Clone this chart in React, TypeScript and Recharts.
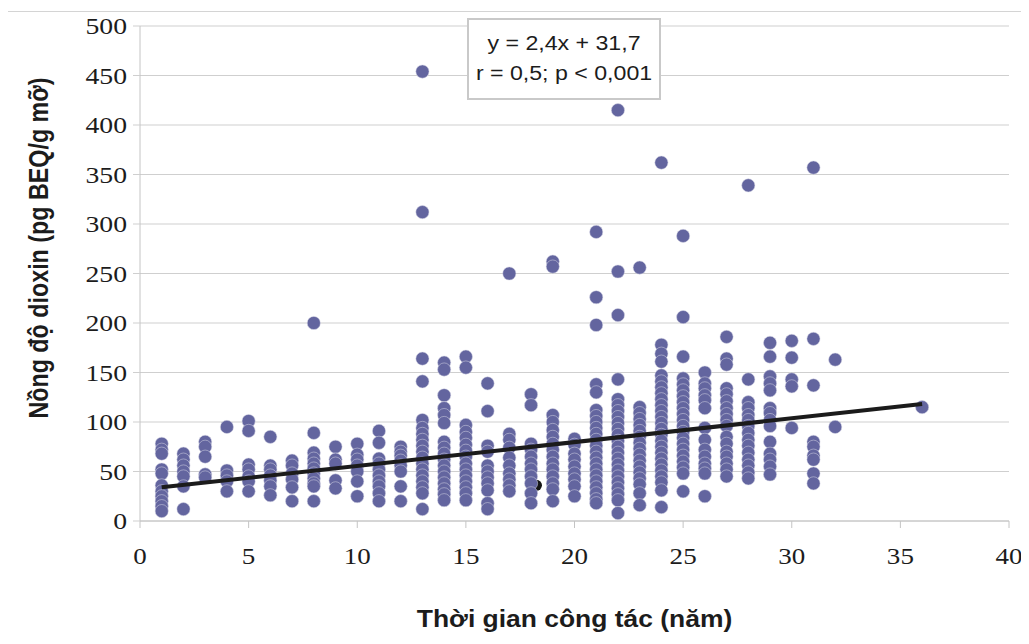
import React from 'react';
import { ScatterChart, Scatter, XAxis, YAxis, CartesianGrid } from 'recharts';

// Years of service (x) and the dioxin readings observed at each year (y)
const years = [1, 2, 3, 4, 5, 6, 7, 8, 9, 10, 11, 12, 13, 14, 15, 16, 17, 18, 19, 20, 21, 22, 23, 24, 25, 26, 27, 28, 29, 30, 31, 32, 36];

const dioxinByYear: number[][] = [
  [78, 72, 68, 52, 48, 36, 30, 25, 20, 15, 10],
  [68, 62, 56, 50, 45, 35, 12],
  [80, 75, 65, 47, 44],
  [95, 51, 46, 40, 30],
  [101, 91, 57, 52, 45, 40, 30],
  [85, 56, 52, 46, 41, 35, 26],
  [61, 56, 48, 42, 34, 20],
  [200, 89, 69, 63, 58, 53, 48, 43, 38, 35, 20],
  [75, 62, 58, 41, 33],
  [78, 67, 62, 56, 50, 40, 25],
  [91, 79, 63, 58, 52, 46, 40, 35, 28, 20],
  [75, 70, 66, 61, 56, 50, 35, 20],
  [454, 312, 164, 141, 102, 94, 88, 82, 76, 70, 64, 58, 52, 46, 40, 34, 28, 12],
  [160, 153, 127, 114, 107, 99, 80, 74, 68, 62, 56, 50, 44, 38, 32, 27, 21],
  [166, 155, 97, 90, 84, 77, 71, 65, 58, 52, 46, 40, 34, 28, 21],
  [139, 111, 76, 70, 56, 50, 44, 38, 31, 18, 12],
  [250, 88, 82, 74, 64, 56, 48, 42, 36, 30],
  [128, 117, 78, 72, 65, 58, 52, 45, 38, 28, 18],
  [262, 257, 107, 100, 92, 85, 78, 72, 65, 58, 52, 45, 38, 32, 20],
  [83, 77, 68, 62, 55, 48, 42, 35, 25],
  [292, 226, 198, 138, 130, 112, 106, 100, 94, 88, 82, 76, 70, 64, 58, 52, 46, 40, 34, 28, 22, 18],
  [415, 252, 208, 143, 123, 117, 111, 105, 99, 93, 87, 81, 75, 69, 63, 57, 51, 45, 39, 33, 27, 21, 8],
  [256, 115, 109, 103, 97, 91, 85, 79, 73, 67, 61, 55, 49, 43, 37, 28, 16],
  [362, 178, 169, 161, 147, 141, 135, 129, 123, 117, 111, 105, 99, 93, 87, 81, 75, 69, 63, 57, 51, 45, 39, 31, 14],
  [288, 206, 166, 144, 138, 132, 126, 120, 114, 108, 102, 96, 90, 84, 78, 72, 66, 60, 54, 48, 30],
  [150, 139, 134, 127, 122, 114, 94, 82, 72, 65, 58, 53, 48, 25],
  [186, 164, 158, 134, 128, 121, 114, 108, 102, 96, 85, 78, 70, 65, 58, 52, 45],
  [339, 143, 120, 114, 107, 102, 96, 89, 82, 76, 69, 62, 56, 49, 43],
  [180, 166, 146, 139, 132, 114, 109, 102, 96, 80, 68, 62, 55, 47],
  [182, 165, 143, 136, 94],
  [357, 184, 137, 80, 75, 66, 62, 48, 38],
  [163, 95],
  [115],
];

// a single dark marker peeking out behind the year-18 column
const darkX = [18.25];
const darkY = [36];

// regression line endpoints (y = 2,4x + 31,7)
const trendX = [1, 36];
const trendY = [34.1, 118.1];

const xTicks = [0, 5, 10, 15, 20, 25, 30, 35, 40];
const yTicks = [0, 50, 100, 150, 200, 250, 300, 350, 400, 450, 500];

const equationText = 'y = 2,4x + 31,7';
const statsText = 'r = 0,5; p < 0,001';
const xTitle = 'Thời gian công tác (năm)';
const yTitle = 'Nồng độ dioxin (pg BEQ/g mỡ)';

const points = years.flatMap((yr, i) => dioxinByYear[i].map((v) => ({ x: yr, y: v })));
const darkPoints = darkX.map((x, i) => ({ x, y: darkY[i] }));
const trendPoints = trendX.map((x, i) => ({ x, y: trendY[i] }));

const SERIF = "'Liberation Serif', 'Times New Roman', serif";
const SANS = "'Liberation Sans', Arial, sans-serif";
const TEXT = '#1c1c1c';
const GRID = '#cfcfcf';
const DOT = '#63659f';

const XTick = (props: any) => {
  const { x, y, payload } = props;
  return (
    <text transform={`translate(${x},${y + 36}) scale(1.15,1)`} textAnchor="middle" fontFamily={SERIF} fontSize={23.5} fill={TEXT}>
      {payload.value}
    </text>
  );
};

const YTick = (props: any) => {
  const { x, y, payload } = props;
  return (
    <text transform={`translate(${x - 6},${y + 8}) scale(1.18,1)`} textAnchor="end" fontFamily={SERIF} fontSize={23.5} fill={TEXT}>
      {payload.value}
    </text>
  );
};

const XTitle = (props: any) => {
  const vb = props.viewBox;
  return (
    <text transform={`translate(${vb.x + vb.width / 2},${vb.y + 106}) scale(1.15,1)`} textAnchor="middle" fontFamily={SANS} fontWeight="bold" fontSize={23} fill={TEXT}>
      {xTitle}
    </text>
  );
};

const YTitle = (props: any) => {
  const vb = props.viewBox;
  return (
    <text transform={`translate(40,${vb.y + 222}) scale(1.2,1) rotate(-90)`} textAnchor="middle" fontFamily={SANS} fontWeight="bold" fontSize={23.3} fill={TEXT}>
      {yTitle}
    </text>
  );
};

const Dot = (props: any) => <circle cx={props.cx} cy={props.cy} r={6.6} fill={DOT} stroke="#d9d9e6" strokeWidth={0.5} />;
const DarkDot = (props: any) => <circle cx={props.cx} cy={props.cy} r={5.5} fill="#151515" />;
const NoDot = () => <g />;

export default function App() {
  return (
    <div style={{ position: 'relative', width: 1017, height: 636 }}>
      <div style={{ position: 'absolute', left: -1, top: 3, width: 1016, height: 660, border: '1px solid #d4d4d4', boxSizing: 'border-box' }} />
      <ScatterChart width={1017} height={636} margin={{ top: 18, right: 16, left: 0, bottom: 0 }}>
        <CartesianGrid vertical={false} stroke={GRID} strokeWidth={1} />
        <XAxis
          type="number"
          dataKey="x"
          domain={[0, 40]}
          ticks={xTicks}
          interval={0}
          height={123}
          tickSize={7}
          tickMargin={0}
          axisLine={{ stroke: '#c4c4c4' }}
          tickLine={{ stroke: '#c4c4c4' }}
          tick={<XTick />}
          label={<XTitle />}
        />
        <YAxis
          type="number"
          dataKey="y"
          domain={[0, 500]}
          ticks={yTicks}
          interval={0}
          width={132}
          tickSize={7}
          tickMargin={0}
          axisLine={{ stroke: '#c4c4c4' }}
          tickLine={{ stroke: GRID }}
          tick={<YTick />}
          label={<YTitle />}
        />
        <Scatter data={darkPoints} shape={<DarkDot />} isAnimationActive={false} />
        <Scatter data={points} shape={<Dot />} isAnimationActive={false} />
        <Scatter data={trendPoints} shape={<NoDot />} line={{ stroke: '#1b1b1b', strokeWidth: 4 }} lineType="joint" isAnimationActive={false} />
      </ScatterChart>
      <svg width={1017} height={636} style={{ position: 'absolute', left: 0, top: 0, pointerEvents: 'none' }}>
        <rect x={460} y={11} width={192} height={80} fill="#ffffff" stroke="#c9c9c9" strokeWidth={2} />
        <text transform="translate(556,41.5) scale(1.2,1)" textAnchor="middle" fontFamily={SANS} fontSize={19.3} fill={TEXT}>
          {equationText}
        </text>
        <text transform="translate(556,72) scale(1.2,1)" textAnchor="middle" fontFamily={SANS} fontSize={19.3} fill={TEXT}>
          {statsText}
        </text>
      </svg>
    </div>
  );
}
